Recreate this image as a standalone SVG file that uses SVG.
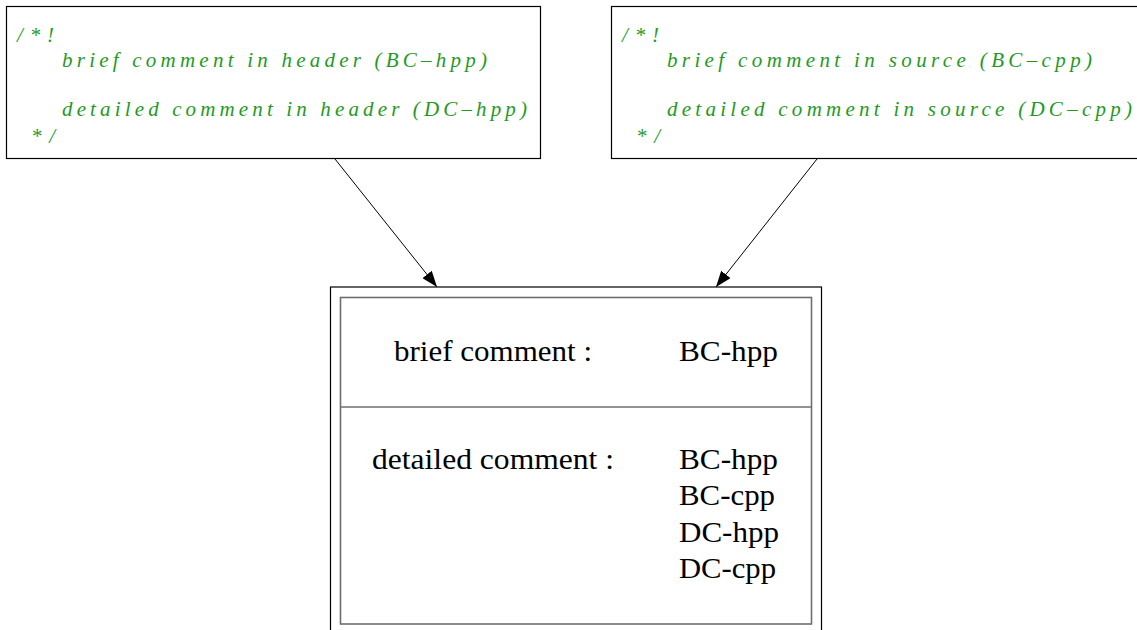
<svg xmlns="http://www.w3.org/2000/svg" width="1137" height="630" viewBox="0 0 1137 630">
  <style>
    .box { fill: #ffffff; stroke: #000000; stroke-width: 1.2; }
    .inner { fill: none; stroke: #6e6e6e; stroke-width: 1.6; }
    .code { font-family: "Liberation Serif", "DejaVu Serif", serif; font-style: italic; font-size: 21px; fill: #1f9a1f; }
    .lbl { font-family: "Liberation Serif", "DejaVu Serif", serif; font-size: 29px; fill: #000000; }
    .edge { stroke: #000000; stroke-width: 1; fill: none; marker-end: url(#arrow); }
  </style>
  <defs>
    <marker id="arrow" viewBox="0 0 16 12" refX="16" refY="6" markerWidth="16" markerHeight="12" markerUnits="userSpaceOnUse" orient="auto">
      <path d="M0,0 L16,6 L0,12 Z" fill="#000000"/>
    </marker>
  </defs>
  <rect width="1137" height="630" fill="#ffffff"/>

  <!-- header comment block -->
  <g id="header-comment">
    <rect class="box" x="6.5" y="6.5" width="534" height="152"/>
    <text class="code" x="17" y="42" textLength="37" lengthAdjust="spacing">/*!</text>
    <text class="code" x="62" y="67" textLength="425" lengthAdjust="spacing">brief comment in header (BC–hpp)</text>
    <text class="code" x="62" y="116" textLength="465" lengthAdjust="spacing">detailed comment in header (DC–hpp)</text>
    <text class="code" x="31" y="143" textLength="24" lengthAdjust="spacing">*/</text>
  </g>

  <!-- source comment block -->
  <g id="source-comment">
    <rect class="box" x="611.5" y="6.5" width="530" height="152"/>
    <text class="code" x="622" y="42" textLength="37" lengthAdjust="spacing">/*!</text>
    <text class="code" x="667" y="67" textLength="425" lengthAdjust="spacing">brief comment in source (BC–cpp)</text>
    <text class="code" x="667" y="116" textLength="465" lengthAdjust="spacing">detailed comment in source (DC–cpp)</text>
    <text class="code" x="636" y="143" textLength="24" lengthAdjust="spacing">*/</text>
  </g>

  <!-- resulting documentation -->
  <g id="result">
    <rect class="box" x="330.5" y="287" width="491" height="360"/>
    <rect class="inner" x="340.5" y="297.5" width="471" height="326.5"/>
    <line class="inner" x1="340.5" y1="407" x2="811.5" y2="407"/>
    <text class="lbl" x="394" y="361" textLength="198" lengthAdjust="spacingAndGlyphs">brief comment :</text>
    <text class="lbl" x="679" y="361" textLength="99" lengthAdjust="spacingAndGlyphs">BC-hpp</text>
    <text class="lbl" x="372" y="469" textLength="242" lengthAdjust="spacingAndGlyphs">detailed comment :</text>
    <text class="lbl" x="679" y="469" textLength="99" lengthAdjust="spacingAndGlyphs">BC-hpp</text>
    <text class="lbl" x="679" y="505" textLength="96" lengthAdjust="spacingAndGlyphs">BC-cpp</text>
    <text class="lbl" x="679" y="542" textLength="100" lengthAdjust="spacingAndGlyphs">DC-hpp</text>
    <text class="lbl" x="679" y="578" textLength="97" lengthAdjust="spacingAndGlyphs">DC-cpp</text>
  </g>

  <!-- connectors -->
  <g id="edges">
    <line class="edge" x1="335" y1="159" x2="437" y2="287"/>
    <line class="edge" x1="817" y1="159" x2="716" y2="287"/>
  </g>
</svg>
